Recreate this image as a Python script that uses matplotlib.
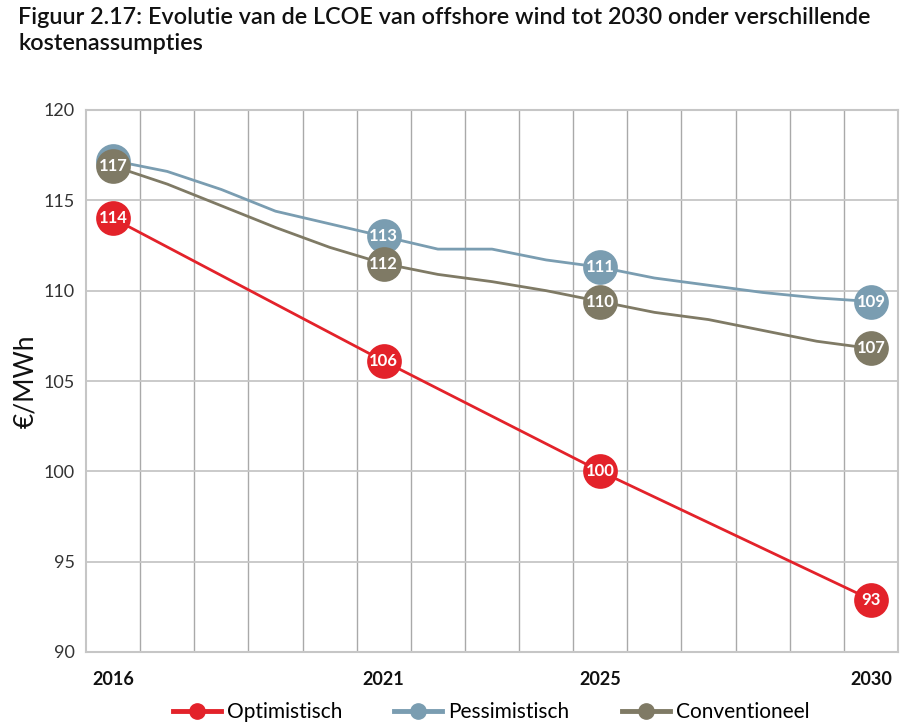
import matplotlib
matplotlib.use("Agg")
import matplotlib.pyplot as plt
from matplotlib.lines import Line2D

plt.rcParams['font.family'] = ['Lato', 'DejaVu Sans']

# ---- data ----
years = list(range(2016, 2031))
pessimistisch = [117.2, 116.6, 115.6, 114.4, 113.7, 113.0, 112.3, 112.3,
                 111.7, 111.3, 110.7, 110.3, 109.9, 109.6, 109.4]
conventioneel = [116.9, 115.9, 114.7, 113.5, 112.4, 111.5, 110.9, 110.5,
                 110.0, 109.4, 108.8, 108.4, 107.8, 107.2, 106.8]
opt_years = [2016, 2021, 2025, 2030]
optimistisch = [114.0, 106.1, 100.0, 92.9]

label_years = [2016, 2021, 2025, 2030]
pess_labels = ["", "113", "111", "109"]   # 2016 label hidden behind conventioneel marker
conv_labels = ["117", "112", "110", "107"]
opt_labels = ["114", "106", "100", "93"]

xtick_labels = ["2016", "2021", "2025", "2030"]
yticks = [90, 95, 100, 105, 110, 115, 120]

c_red = "#E3222A"
c_blue = "#7A9DB1"
c_olive = "#7F7A65"

fig = plt.figure(figsize=(9.01, 7.25), dpi=100)
ax = fig.add_axes([86/901, 73/725, 812/901, 542/725])

ax.set_xlim(2015.5, 2030.5)
ax.set_ylim(90, 120)

# grid
for b in [y + 0.5 for y in years[:-1]]:
    ax.axvline(b, color="#a9a9a9", lw=1.0, zorder=1)
for yv in yticks[1:-1]:
    ax.axhline(yv, color="#c6c6c6", lw=1.3, zorder=1)
for s in ax.spines.values():
    s.set_color("#c6c6c6")
    s.set_linewidth(1.5)

def series(xs, ys, lxs, labels, color, z):
    ax.plot(xs, ys, color=color, lw=2.0, zorder=z, solid_capstyle='round')
    lys = [ys[xs.index(x)] for x in lxs]
    ax.plot(lxs, lys, 'o', ms=25, color=color, mew=0.0, zorder=z + 0.1)
    for x, y, t in zip(lxs, lys, labels):
        if t:
            ax.text(x, y, t, color='white', fontsize=12, fontweight='bold',
                    ha='center', va='center', zorder=z + 0.2)

series(years, pessimistisch, label_years, pess_labels, c_blue, 3)
series(years, conventioneel, label_years, conv_labels, c_olive, 4)
series(opt_years, optimistisch, label_years, opt_labels, c_red, 5)

ax.set_yticks(yticks)
ax.set_yticklabels([str(v) for v in yticks], fontsize=13, color="#333333")
ax.set_xticks([int(t) for t in xtick_labels])
ax.set_xticklabels(xtick_labels, fontsize=13, fontweight='bold', color="#111111")
ax.tick_params(axis='both', length=0)
ax.tick_params(axis='y', pad=8)
ax.tick_params(axis='x', pad=14)

ax.set_ylabel("€/MWh", fontsize=19, color="#111111", labelpad=4)

fig.text(18/901, 1 - 18/725, "Figuur 2.17: Evolutie van de LCOE van offshore wind tot 2030 onder verschillende",
         fontsize=16.8, fontweight='semibold', color="#111111", va='center', ha='left')
fig.text(18/901, 1 - 44/725, "kostenassumpties",
         fontsize=16.8, fontweight='semibold', color="#111111", va='center', ha='left')

handles = [Line2D([0], [0], color=c, lw=3.5, marker='o', ms=11) for c in (c_red, c_blue, c_olive)]
fig.legend(handles, ["Optimistisch", "Pessimistisch", "Conventioneel"],
           loc='center', bbox_to_anchor=(491/901, 1 - 712/725), ncol=3, frameon=False,
           fontsize=15, handlelength=2.3, columnspacing=2.5, handletextpad=0.3)

fig.savefig("out.png", dpi=100)
